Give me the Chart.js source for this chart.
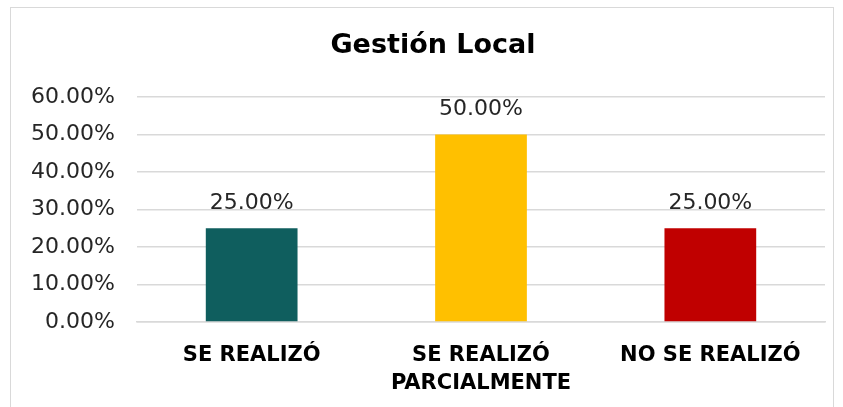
<!DOCTYPE html>
<html>
<head>
<meta charset="utf-8">
<script src="https://cdn.jsdelivr.net/npm/chart.js@4.4.0/dist/chart.umd.min.js"></script>
<style>
  body { margin: 0; background: #fff; }
  #wrap { position: relative; width: 843px; height: 407px; }
  #frame { position: absolute; left: 10px; top: 7px; width: 822px; height: 420px; border: 1px solid #d9d9d9; pointer-events: none; }
</style>
</head>
<body>
<div id="wrap">
  <canvas id="myChart" width="843" height="407"></canvas>
  <div id="frame"></div>
</div>
<script>
const categories = [['SE REALIZÓ'], ['SE REALIZÓ', 'PARCIALMENTE'], ['NO SE REALIZÓ']]
const values = [0.25, 0.50, 0.25]
const barColors = ['#0F5E5E', '#FFC000', '#C00000']
const chartTitle = 'Gestión Local'

const FONT = "'DejaVu Sans', sans-serif"

const pct = v => (v * 100).toFixed(2) + '%'

// etiquetas de datos encima de cada barra + título centrado en el marco
const barLabels = {
  id: 'barLabels',
  afterDatasetsDraw(chart) {
    const ctx = chart.ctx
    const meta = chart.getDatasetMeta(0)
    ctx.save()
    ctx.font = '22px ' + FONT
    ctx.fillStyle = '#262626'
    ctx.textAlign = 'center'
    ctx.textBaseline = 'bottom'
    meta.data.forEach((bar, i) => {
      ctx.fillText(pct(values[i]), bar.x, bar.y - 14)
    })
    ctx.font = 'bold 27px ' + FONT
    ctx.fillStyle = '#000'
    ctx.textBaseline = 'middle'
    ctx.fillText(chartTitle, 433, 46)
    ctx.restore()
  }
}

new Chart(document.getElementById('myChart').getContext('2d'), {
  type: 'bar',
  data: {
    labels: categories,
    datasets: [{
      data: values,
      backgroundColor: barColors,
      barPercentage: 0.4,
      categoryPercentage: 1
    }]
  },
  options: {
    responsive: false,
    animation: false,
    layout: { padding: { left: 20, right: 18, top: 97, bottom: 0 } },
    plugins: {
      legend: { display: false },
      tooltip: { enabled: false },
      title: { display: false }
    },
    scales: {
      y: {
        min: 0,
        max: 0.6,
        ticks: {
          stepSize: 0.1,
          color: '#262626',
          padding: 22,
          font: { family: FONT, size: 22 },
          callback: v => pct(v)
        },
        grid: { color: '#d9d9d9', lineWidth: 1.5, drawTicks: false },
        border: { display: false },
        afterFit: s => { s.width = 117 }
      },
      x: {
        ticks: {
          color: '#000',
          padding: 11,
          font: { family: FONT, size: 21, weight: 'bold', lineHeight: 1.35 }
        },
        grid: { display: false },
        border: { color: '#d9d9d9', width: 1.5 },
        afterFit: s => { s.height = 85 }
      }
    }
  },
  plugins: [barLabels]
})
</script>
</body>
</html>
